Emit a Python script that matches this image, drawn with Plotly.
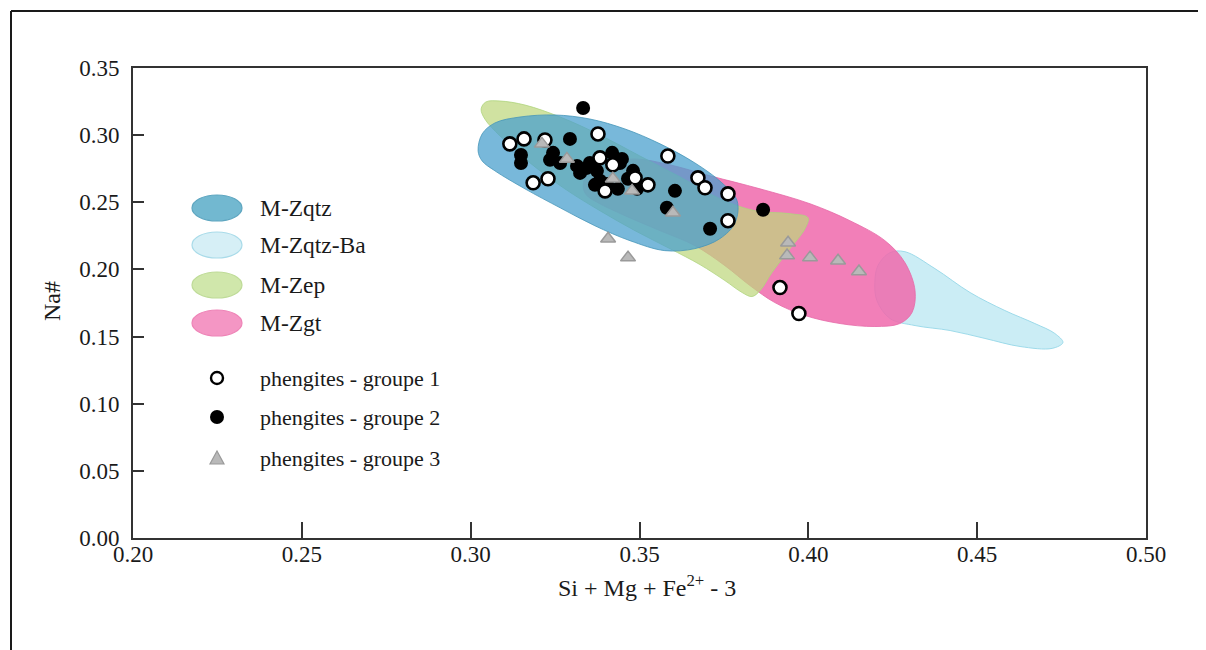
import plotly.graph_objects as go

# ---------------- data ----------------
# Field outlines (data units)
zqtz_x = [0.3022, 0.3034, 0.3072, 0.3146, 0.3250, 0.3353, 0.3457, 0.3561, 0.3664, 0.3744, 0.3789,
          0.3783, 0.3738, 0.3664, 0.3575, 0.3472, 0.3368, 0.3265, 0.3161, 0.3072, 0.3034, 0.3022]
zqtz_y = [0.2883, 0.3009, 0.3091, 0.3135, 0.3150, 0.3120, 0.3046, 0.2935, 0.2793, 0.2645, 0.2511,
          0.2348, 0.2229, 0.2155, 0.2140, 0.2214, 0.2325, 0.2459, 0.2600, 0.2734, 0.2808, 0.2883]

zqtzba_x = [0.4206, 0.4242, 0.4286, 0.4375, 0.4479, 0.4582, 0.4671, 0.4730, 0.4754, 0.4722, 0.4627,
            0.4523, 0.4420, 0.4316, 0.4242, 0.4203, 0.4197, 0.4206]
zqtzba_y = [0.2028, 0.2125, 0.2132, 0.2006, 0.1828, 0.1694, 0.1597, 0.1523, 0.1456, 0.1412, 0.1426,
            0.1486, 0.1545, 0.1582, 0.1634, 0.1768, 0.1902, 0.2028]

zep_x = [0.3031, 0.3045, 0.3087, 0.3161, 0.3265, 0.3383, 0.3501, 0.3620, 0.3738, 0.3842, 0.3946,
         0.3999, 0.3990, 0.3946, 0.3892, 0.3857, 0.3833, 0.3804, 0.3753, 0.3679, 0.3590, 0.3487,
         0.3383, 0.3279, 0.3176, 0.3087, 0.3042, 0.3031]
zep_y = [0.3195, 0.3247, 0.3254, 0.3224, 0.3135, 0.3001, 0.2845, 0.2689, 0.2526, 0.2437, 0.2415,
         0.2385, 0.2303, 0.2155, 0.1976, 0.1842, 0.1798, 0.1828, 0.1917, 0.2036, 0.2155, 0.2288,
         0.2437, 0.2600, 0.2793, 0.2994, 0.3120, 0.3195]

zgt_x = [0.3333, 0.3347, 0.3398, 0.3487, 0.3590, 0.3709, 0.3857, 0.4005, 0.4123, 0.4227, 0.4286,
         0.4316, 0.4307, 0.4271, 0.4197, 0.4094, 0.3990, 0.3901, 0.3827, 0.3753, 0.3664, 0.3561,
         0.3457, 0.3377, 0.3342, 0.3333]
zgt_y = [0.2623, 0.2719, 0.2793, 0.2823, 0.2779, 0.2697, 0.2600, 0.2489, 0.2363, 0.2214, 0.2051,
         0.1842, 0.1679, 0.1597, 0.1575, 0.1597, 0.1657, 0.1753, 0.1880, 0.2028, 0.2177, 0.2288,
         0.2400, 0.2496, 0.2556, 0.2623]

# Phengites
g1_x = [0.3116, 0.3158, 0.3220, 0.3185, 0.3229, 0.3377, 0.3383, 0.3421, 0.3398, 0.3487, 0.3525,
        0.3584, 0.3673, 0.3694, 0.3762, 0.3762, 0.3916, 0.3972]
g1_y = [0.2935, 0.2972, 0.2964, 0.2645, 0.2675, 0.3009, 0.2831, 0.2779, 0.2585, 0.2682, 0.2630,
        0.2845, 0.2682, 0.2608, 0.2563, 0.2363, 0.1865, 0.1672]

g2_x = [0.3333, 0.3294, 0.3149, 0.3149, 0.3244, 0.3235, 0.3265, 0.3315, 0.3324, 0.3344, 0.3353,
        0.3374, 0.3383, 0.3368, 0.3419, 0.3448, 0.3442, 0.3481, 0.3466, 0.3436, 0.3493, 0.3404,
        0.3605, 0.3581, 0.3709, 0.3866]
g2_y = [0.3202, 0.2972, 0.2853, 0.2793, 0.2868, 0.2816, 0.2793, 0.2771, 0.2719, 0.2756, 0.2793,
        0.2734, 0.2660, 0.2630, 0.2868, 0.2823, 0.2793, 0.2734, 0.2675, 0.2600, 0.2600, 0.2637,
        0.2585, 0.2459, 0.2303, 0.2444]

g3_x = [0.3211, 0.3285, 0.3421, 0.3478, 0.3599, 0.3407, 0.3466, 0.3940, 0.3937, 0.4005, 0.4088, 0.4150]
g3_y = [0.2935, 0.2823, 0.2675, 0.2585, 0.2422, 0.2229, 0.2088, 0.2199, 0.2103, 0.2088, 0.2065, 0.1984]

field_names = ["M-Zqtz", "M-Zqtz-Ba", "M-Zep", "M-Zgt"]
group_names = ["phengites - groupe 1", "phengites - groupe 2", "phengites - groupe 3"]
x_ticks = [0.20, 0.25, 0.30, 0.35, 0.40, 0.45, 0.50]
y_ticks = [0.00, 0.05, 0.10, 0.15, 0.20, 0.25, 0.30, 0.35]
x_title = "Si + Mg + Fe<sup>2+</sup> - 3"
y_title = "Na#"

# ---------------- styles ----------------
FONT = "Liberation Serif"
fill_cols = {
    "M-Zqtz": ("rgba(75,160,205,0.75)", "rgba(70,150,185,0.8)"),
    "M-Zqtz-Ba": ("rgba(190,232,243,0.8)", "rgba(150,215,232,0.9)"),
    "M-Zep": ("rgba(190,215,125,0.72)", "rgba(175,212,125,0.8)"),
    "M-Zgt": ("rgba(240,105,172,0.85)", "rgba(230,105,168,0.8)"),
}
legend_fill = {
    "M-Zqtz": ("#72b8d0", "#5ea6c0"),
    "M-Zqtz-Ba": ("#d6eff6", "#a9dbe9"),
    "M-Zep": ("#d0e7ab", "#bedb97"),
    "M-Zgt": ("#f496c4", "#ee84b7"),
}

fig = go.Figure()

fields = [("M-Zqtz-Ba", zqtzba_x, zqtzba_y), ("M-Zgt", zgt_x, zgt_y),
          ("M-Zep", zep_x, zep_y), ("M-Zqtz", zqtz_x, zqtz_y)]
for name, xs, ys in fields:
    fc, lc = fill_cols[name]
    fig.add_trace(go.Scatter(x=xs, y=ys, mode="lines", fill="toself", fillcolor=fc,
                             line=dict(color=lc, width=1, shape="spline", smoothing=1.0),
                             name=name, showlegend=False, hoverinfo="name"))

fig.add_trace(go.Scatter(x=g2_x, y=g2_y, mode="markers", name=group_names[1], showlegend=False,
                         marker=dict(symbol="circle", size=14, color="black",
                                     line=dict(color="black", width=0))))
fig.add_trace(go.Scatter(x=g1_x, y=g1_y, mode="markers", name=group_names[0], showlegend=False,
                         marker=dict(symbol="circle", size=13, color="white",
                                     line=dict(color="black", width=2.6))))
fig.add_trace(go.Scatter(x=g3_x, y=g3_y, mode="markers", name=group_names[2], showlegend=False,
                         marker=dict(symbol="triangle-up", size=13, color="#b9b9b9",
                                     line=dict(color="#9a9a9a", width=1.5))))

# ---------------- layout geometry ----------------
# page body has an 8px margin; positions below are given in screenshot pixels
OFF = 8
W, H = 1206 - OFF, 650 - OFF
L, R, T, B = 133 - OFF, 1146 - OFF, 68 - OFF, 538 - OFF


def px(xp):
    return (xp - OFF - L) / (R - L)


def py(yp):
    return (B - (yp - OFF)) / (B - T)


shapes = []
annotations = []

# outer frame (top and left edges)
shapes.append(dict(type="line", xref="paper", yref="paper", x0=px(11), x1=px(1206), y0=py(11), y1=py(11),
                   line=dict(color="#1a1a1a", width=2)))
shapes.append(dict(type="line", xref="paper", yref="paper", x0=px(11), x1=px(11), y0=py(11), y1=py(650),
                   line=dict(color="#1a1a1a", width=2)))

# legend: fields
leg_field_y = [208, 245, 285, 323]
for name, yy in zip(field_names, leg_field_y):
    fc, lc = legend_fill[name]
    shapes.append(dict(type="circle", xref="paper", yref="paper", xsizemode="pixel", ysizemode="pixel",
                       xanchor=px(217), yanchor=py(yy), x0=-25, x1=25, y0=-13, y1=13,
                       fillcolor=fc, line=dict(color=lc, width=1.2)))
    annotations.append(dict(xref="paper", yref="paper", x=px(258), y=py(yy), text=name, showarrow=False,
                            xanchor="left", yanchor="middle", font=dict(family=FONT, size=23.5, color="#1a1a1a")))

# legend: groups
leg_grp_y = [378, 417, 458]
shapes.append(dict(type="circle", xref="paper", yref="paper", xsizemode="pixel", ysizemode="pixel",
                   xanchor=px(217), yanchor=py(leg_grp_y[0]), x0=-6, x1=6, y0=-6, y1=6,
                   fillcolor="white", line=dict(color="black", width=2.4)))
shapes.append(dict(type="circle", xref="paper", yref="paper", xsizemode="pixel", ysizemode="pixel",
                   xanchor=px(217), yanchor=py(leg_grp_y[1]), x0=-7, x1=7, y0=-7, y1=7,
                   fillcolor="black", line=dict(color="black", width=0)))
shapes.append(dict(type="path", xref="paper", yref="paper", xsizemode="pixel", ysizemode="pixel",
                   xanchor=px(217), yanchor=py(leg_grp_y[2]), path="M -7,-6 L 7,-6 L 0,7 Z",
                   fillcolor="#b9b9b9", line=dict(color="#9a9a9a", width=1.2)))
for name, yy in zip(group_names, leg_grp_y):
    annotations.append(dict(xref="paper", yref="paper", x=px(258), y=py(yy), text=name, showarrow=False,
                            xanchor="left", yanchor="middle", font=dict(family=FONT, size=22, color="#1a1a1a")))

# axis titles
annotations.append(dict(xref="paper", yref="paper", x=px(647), y=py(586), text=x_title, showarrow=False,
                        xanchor="center", yanchor="middle", font=dict(family=FONT, size=24, color="#1a1a1a")))
annotations.append(dict(xref="paper", yref="paper", x=px(52), y=py(301), text=y_title, showarrow=False,
                        textangle=-90, xanchor="center", yanchor="middle",
                        font=dict(family=FONT, size=24, color="#1a1a1a")))

fig.update_layout(
    width=W, height=H, autosize=False,
    margin=dict(l=L, r=W - R, t=T, b=H - B),
    paper_bgcolor="white", plot_bgcolor="white",
    font=dict(family=FONT, size=22, color="#1a1a1a"),
    shapes=shapes, annotations=annotations,
    showlegend=False,
)
fig.update_xaxes(range=[0.2, 0.5], tickvals=x_ticks, ticktext=[f"{v:.2f}" for v in x_ticks],
                 ticks="inside", ticklen=16, tickwidth=2, tickcolor="#333",
                 showline=True, linewidth=2, linecolor="#333", mirror=True,
                 showgrid=False, zeroline=False, ticklabelstandoff=-6,
                 tickfont=dict(family=FONT, size=23, color="#1a1a1a"))
fig.update_yaxes(range=[0, 0.35], tickvals=y_ticks, ticktext=[f"{v:.2f}" for v in y_ticks],
                 ticks="inside", ticklen=11, tickwidth=2, tickcolor="#333",
                 showline=True, linewidth=2, linecolor="#333", mirror=True,
                 showgrid=False, zeroline=False, ticklabelstandoff=7,
                 tickfont=dict(family=FONT, size=23, color="#1a1a1a"))

fig.write_html("out.html")
